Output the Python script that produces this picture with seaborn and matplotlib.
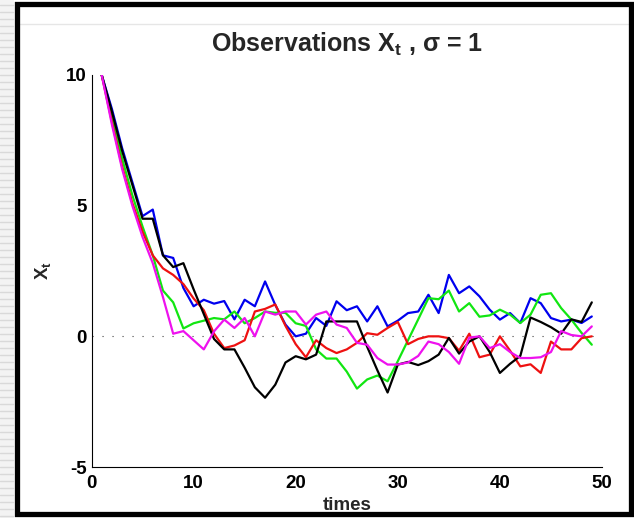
import numpy as np
import pandas as pd
import matplotlib
matplotlib.use("Agg")
import matplotlib.pyplot as plt
from matplotlib.lines import Line2D
from matplotlib.patches import Rectangle
import seaborn as sns

# ---------------- data ----------------
times = list(range(1, 50))

blue = [10, 8.7, 7.2, 5.9, 4.6, 4.85, 3.1, 3.0, 1.85, 1.15,
        1.4, 1.25, 1.35, 0.65, 1.4, 1.15, 2.1, 1.2, 0.45, 0.0,
        0.1, 0.7, 0.4, 1.34, 1.0, 1.15, 0.57, 1.15, 0.38, 0.6,
        0.89, 0.95, 1.59, 0.89, 2.35, 1.65, 1.91, 1.53, 1.02, 0.64,
        0.89, 0.51, 1.46, 1.27, 0.7, 0.57, 0.64, 0.51, 0.76]

green = [10, 8.4, 6.8, 5.4, 4.2, 3.1, 1.75, 1.3, 0.3, 0.5,
         0.6, 0.7, 0.65, 0.95, 0.5, 0.7, 0.95, 0.9, 0.9, 0.5,
         0.4, -0.5, -0.85, -0.85, -1.35, -2.0, -1.65, -1.5, -1.72, -0.95,
         -0.15, 0.65, 1.46, 1.42, 1.75, 0.95, 1.27, 0.75, 0.8, 1.02,
         0.83, 0.51, 0.83, 1.59, 1.65, 1.08, 0.64, 0.13, -0.32]

red = [10, 8.2, 6.5, 5.1, 4.0, 3.1, 2.6, 2.35, 2.0, 1.45,
       1.0, 0.1, -0.45, -0.35, -0.15, 0.95, 1.05, 1.22, 0.4, -0.3,
       -0.8, -0.15, -0.45, -0.64, -0.5, -0.25, 0.12, 0.06, 0.32, 0.55,
       -0.3, -0.1, 0.0, 0.0, -0.07, -0.55, 0.1, -0.8, -0.7, 0.0,
       -0.55, -1.15, -1.07, -1.4, -0.2, -0.5, -0.5, -0.07, 0.0]

black = [10, 8.6, 7.1, 5.8, 4.5, 4.5, 3.1, 2.65, 2.8, 1.8,
         0.85, -0.1, -0.5, -0.5, -1.2, -1.95, -2.35, -1.85, -1.0, -0.76,
         -0.88, -0.7, 0.57, 0.57, 0.57, 0.57, -0.4, -1.3, -2.15, -1.08,
         -0.98, -1.1, -0.95, -0.7, -0.06, -0.66, -0.2, 0.0, -0.6, -1.4,
         -1.05, -0.75, 0.72, 0.55, 0.35, 0.1, 0.65, 0.55, 1.3]

magenta = [10, 8.1, 6.4, 5.0, 3.8, 2.8, 1.5, 0.1, 0.2, -0.15,
           -0.5, 0.19, 0.64, 0.32, 0.7, 0.0, 0.95, 0.83, 0.95, 0.95,
           0.45, 0.83, 0.95, 0.45, 0.32, -0.25, -0.32, -0.83, -1.08, -1.08,
           -1.0, -0.75, -0.2, -0.3, -0.6, -1.05, -0.05, 0.0, -0.45, -0.3,
           -0.6, -0.83, -0.83, -0.8, -0.6, 0.2, 0.05, 0.0, 0.38]

series_names = ["blue", "green", "red", "black", "magenta"]
series_values = [blue, green, red, black, magenta]
series_colors = ["#0000ee", "#11e611", "#ee1111", "#000000", "#ee11ee"]

x_ticks = [0, 10, 20, 30, 40, 50]
y_ticks = [-5, 0, 5, 10]

rows = []
for name, vals in zip(series_names, series_values):
    for t, v in zip(times, vals):
        rows.append({"time": t, "value": v, "series": name})
df = pd.DataFrame(rows)

# ---------------- style ----------------
sns.set_style("white")
plt.rcParams["font.family"] = ["Liberation Sans", "DejaVu Sans"]
plt.rcParams["font.weight"] = "bold"
plt.rcParams["mathtext.fontset"] = "custom"
plt.rcParams["mathtext.rm"] = "Liberation Sans:bold"
plt.rcParams["mathtext.it"] = "Liberation Sans:bold"
plt.rcParams["mathtext.bf"] = "Liberation Sans:bold"

W, H = 634, 518
fig = plt.figure(figsize=(W / 100, H / 100), dpi=100)
fig.patch.set_facecolor("white")

# slide decoration: striped left margin and black frame
fig.add_artist(Rectangle((0, 0), 14 / W, 1, transform=fig.transFigure,
                         facecolor="#f3f3f3", edgecolor="none", zorder=0))
for yy in range(2, H, 7):
    fig.add_artist(Line2D([0, 13 / W], [yy / H, yy / H], transform=fig.transFigure,
                          color="#d9d9d9", lw=1.0, zorder=1))
fig.add_artist(Line2D([20 / W, 628 / W], [1 - 24 / H, 1 - 24 / H], transform=fig.transFigure,
                      color="#e6e6e6", lw=1.0, zorder=1))
fig.add_artist(Rectangle((17 / W, 4 / H), (631 - 17) / W, (514 - 4) / H,
                         transform=fig.transFigure, fill=False,
                         edgecolor="black", lw=3.8, zorder=5))

ax = fig.add_axes([91.5 / W, 1 - 467 / H, (602 - 91.5) / W, (467 - 75) / H])

ax.axhline(0, color="#444444", lw=0.8, linestyle=(0, (1, 8)), zorder=1)

sns.lineplot(data=df, x="time", y="value", hue="series",
             hue_order=series_names, palette=series_colors,
             estimator=None, sort=False, linewidth=1.6, legend=False, ax=ax)

ax.set_xlim(0, 50)
ax.set_ylim(-5, 10)
ax.set_xticks(x_ticks)
ax.set_yticks(y_ticks)
ax.set_xticklabels([str(v) for v in x_ticks], fontweight="bold")
ax.set_yticklabels([str(v) for v in y_ticks], fontweight="bold")

for side in ["top", "right"]:
    ax.spines[side].set_visible(False)
for side in ["left", "bottom"]:
    ax.spines[side].set_color("black")
    ax.spines[side].set_linewidth(0.8)

ax.tick_params(direction="in", length=6, width=0.8, colors="black",
               labelsize=13.5)
ax.tick_params(axis="x", pad=6)
ax.tick_params(axis="y", pad=3.5)

ax.set_title("Observations X$_\\mathrm{t}$ , σ = 1", fontsize=18,
             fontweight="bold", pad=17)
ax.set_xlabel("times", fontsize=13.5, fontweight="bold", labelpad=3)
ax.set_ylabel("X$_\\mathrm{t}$", fontsize=13.5, fontweight="bold", labelpad=9)

fig.savefig("out.png", dpi=100, facecolor="white")
